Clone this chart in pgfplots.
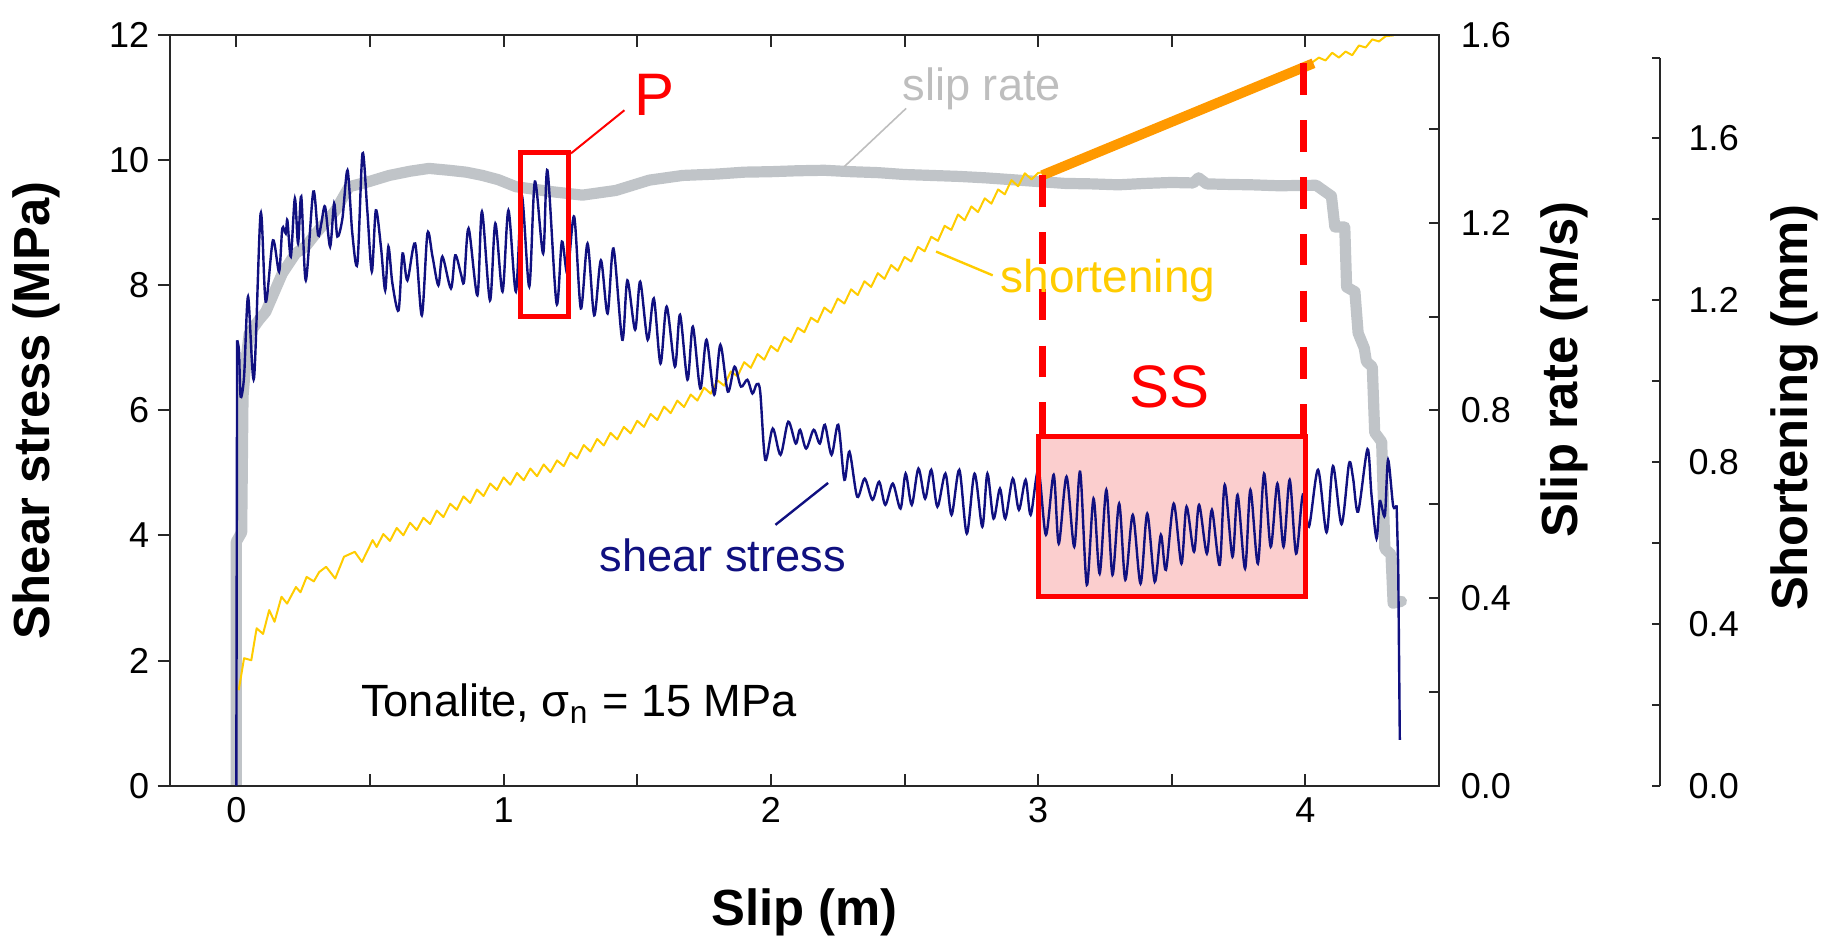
\documentclass[border=0pt]{standalone}
\usepackage{pgfplots}
\pgfplotsset{compat=1.18}
\usepackage{fontspec}
\setmainfont{Liberation Sans}
\definecolor{navyc}{RGB}{16,16,128}
\definecolor{grayc}{RGB}{192,196,200}
\definecolor{yellowc}{RGB}{255,204,0}
\definecolor{orangec}{RGB}{255,153,0}
\definecolor{redc}{RGB}{255,0,0}
\definecolor{axisc}{RGB}{40,40,40}
\definecolor{pinkc}{RGB}{251,206,206}
\definecolor{labgray}{RGB}{190,190,190}
\begin{document}
\begin{tikzpicture}
\path[use as bounding box] (0,0) rectangle (458.25pt,236.75pt);
\pgfplotsset{
  common/.style={
    scale only axis, width=317.4pt, height=187.6pt,
    at={(42.375pt,40.35pt)}, anchor=south west,
    xmin=-0.25, xmax=4.5,
    /pgf/number format/assume math mode=true,
    tick label style={font=\fontsize{9}{10}\selectfont},
    label style={font=\bfseries\fontsize{12.7}{14}\selectfont},
    axis line style={axisc, line width=0.5pt},
    every tick/.style={axisc, line width=0.5pt},
    major tick length=3pt, minor tick length=3pt,
    tick align=inside,
  },
  onedec/.style={
    yticklabel style={/pgf/number format/fixed, /pgf/number format/fixed zerofill, /pgf/number format/precision=1}
  }
}
% ---------- slip rate (right axis) ----------
\begin{axis}[common, onedec, ymin=0, ymax=1.6,
  axis y line*=right, axis x line=none,
  ytick={0,0.4,0.8,1.2,1.6}, minor ytick={0.2,0.6,1.0,1.4},
  major tick length=2.5pt, minor tick length=2.5pt,
  yticklabel style={inner sep=0pt, xshift=5.25pt, anchor=west},
  ylabel={Slip rate (m/s)},
  ylabel style={at={(axis description cs:1.0985,0.555)}, anchor=center}]
\addplot[grayc, line width=2.8pt, line join=round, line cap=round] coordinates {
(0.000,0.000) (0.000,0.520) (0.010,0.530) (0.020,0.540) (0.025,0.830) (0.035,0.900)
(0.048,0.964) (0.085,0.993) (0.110,1.010) (0.135,1.043) (0.172,1.092) (0.222,1.135) (0.260,1.150) (0.297,1.177)
(0.372,1.227) (0.422,1.277) (0.497,1.288) (0.572,1.301) (0.650,1.310) (0.721,1.316)
(0.796,1.312) (0.860,1.308) (0.921,1.301) (0.980,1.292) (1.046,1.277) (1.171,1.267) (1.295,1.259) (1.420,1.269)
(1.545,1.291) (1.670,1.301) (1.800,1.304) (1.900,1.308) (2.000,1.309) (2.100,1.311)
(2.200,1.312) (2.300,1.309) (2.400,1.307) (2.500,1.303) (2.600,1.301) (2.700,1.299)
(2.800,1.296) (2.900,1.292) (3.000,1.288) (3.100,1.284) (3.200,1.283) (3.300,1.281)
(3.400,1.284) (3.500,1.286) (3.580,1.285) (3.600,1.296) (3.630,1.283) (3.700,1.282)
(3.800,1.281) (3.900,1.279) (4.040,1.280) (4.097,1.257) (4.110,1.191) (4.147,1.191)
(4.154,1.063) (4.185,1.053) (4.197,0.965) (4.220,0.933) (4.228,0.904) (4.250,0.893)
(4.259,0.753) (4.285,0.733) (4.297,0.505) (4.320,0.493) (4.328,0.389) (4.359,0.393)
};
\end{axis}
% ---------- shortening data (hidden axis) ----------
\begin{axis}[common, ymin=0, ymax=1.8554, hide axis]
\addplot[yellowc, line width=0.5pt, line join=round] coordinates {
(0.009,0.236) (0.029,0.315) (0.056,0.310) (0.076,0.389) (0.100,0.375) (0.123,0.434)
(0.143,0.405) (0.169,0.467) (0.190,0.450) (0.223,0.491) (0.240,0.478) (0.263,0.516)
(0.290,0.505) (0.310,0.528) (0.336,0.541) (0.370,0.512) (0.403,0.566) (0.443,0.578)
(0.470,0.553) (0.510,0.607) (0.525,0.590) (0.550,0.622) (0.575,0.605) (0.600,0.637)
(0.625,0.619) (0.650,0.650) (0.675,0.632) (0.700,0.662) (0.725,0.647) (0.750,0.680)
(0.775,0.664) (0.800,0.697) (0.825,0.682) (0.850,0.715) (0.875,0.699) (0.900,0.732)
(0.925,0.716) (0.950,0.747) (0.975,0.731) (1.000,0.762) (1.025,0.744) (1.050,0.773)
(1.075,0.755) (1.100,0.784) (1.125,0.765) (1.150,0.794) (1.175,0.775) (1.200,0.804)
(1.225,0.790) (1.250,0.823) (1.275,0.809) (1.300,0.842) (1.325,0.826) (1.350,0.857)
(1.375,0.841) (1.400,0.872) (1.425,0.856) (1.450,0.887) (1.475,0.871) (1.500,0.902)
(1.525,0.887) (1.550,0.919) (1.575,0.904) (1.600,0.937) (1.625,0.921) (1.650,0.952)
(1.675,0.936) (1.700,0.967) (1.725,0.952) (1.750,0.984) (1.775,0.969) (1.800,1.002)
(1.825,0.989) (1.850,1.024) (1.875,1.012) (1.900,1.047) (1.925,1.033) (1.950,1.067)
(1.975,1.053) (2.000,1.087) (2.025,1.074) (2.050,1.109) (2.075,1.097) (2.100,1.132)
(2.125,1.121) (2.150,1.157) (2.175,1.146) (2.200,1.182) (2.225,1.169) (2.250,1.204)
(2.275,1.192) (2.300,1.227) (2.325,1.213) (2.350,1.247) (2.375,1.233) (2.400,1.267)
(2.425,1.253) (2.450,1.287) (2.475,1.273) (2.500,1.307) (2.525,1.296) (2.550,1.332)
(2.575,1.321) (2.600,1.357) (2.625,1.347) (2.650,1.384) (2.675,1.374) (2.700,1.412)
(2.725,1.398) (2.750,1.432) (2.775,1.418) (2.800,1.452) (2.825,1.439) (2.850,1.474)
(2.875,1.462) (2.900,1.497) (2.925,1.482) (2.950,1.514) (2.975,1.499) (3.000,1.515)
(3.050,1.518) (3.100,1.537) (3.150,1.542) (3.200,1.565) (3.250,1.570) (3.300,1.592)
(3.350,1.597) (3.400,1.620) (3.450,1.625) (3.500,1.647) (3.550,1.652) (3.600,1.675)
(3.650,1.680) (3.700,1.702) (3.750,1.707) (3.800,1.730) (3.850,1.735) (3.900,1.757)
(3.950,1.762) (4.000,1.785) (4.025,1.788) (4.050,1.800) (4.075,1.793) (4.100,1.812)
(4.125,1.800) (4.150,1.815) (4.175,1.806) (4.200,1.830) (4.225,1.825) (4.250,1.845)
(4.275,1.840) (4.300,1.853) (4.330,1.855)
};
\addplot[orangec, line width=2.5pt] coordinates {(3.015,1.509) (4.030,1.786)};
\end{axis}
% ---------- shear stress (main axis) ----------
\begin{axis}[common, ymin=0, ymax=12, clip=false,
  ytick={0,2,4,6,8,10,12}, ytick pos=left,
  xtick={0,1,2,3,4}, minor xtick={0.5,1.5,2.5,3.5},
  xtick pos=both, xticklabel pos=lower,
  y tick style={xshift=-3pt},
  yticklabel style={inner sep=0pt, xshift=-4.9pt},
  xticklabel style={inner sep=0pt, yshift=-2.75pt},
  xlabel={Slip (m)},
  xlabel style={at={(axis description cs:0.5,-0.1685)}, anchor=center},
  ylabel={Shear stress (MPa)},
  ylabel style={at={(axis description cs:-0.105,0.5)}, anchor=center}]
\addplot[draw=none, fill=pinkc] coordinates {(3.001,3.02) (4.000,3.02) (4.000,5.58) (3.001,5.58)} -- cycle;
\addplot[navyc, line width=0.6pt] coordinates {(0.000,0.00) (0.003,7.12)};
\addplot[navyc, line width=0.6pt, smooth, tension=0.5] coordinates {
(0.003,7.12) (0.010,6.95) (0.016,6.22) (0.029,6.54) (0.044,7.82) (0.066,6.51)
(0.091,9.15) (0.110,7.74) (0.137,8.72) (0.160,8.22) (0.172,8.91) (0.185,8.83) (0.191,9.04)
(0.204,8.46) (0.219,9.39) (0.231,8.67) (0.243,9.42) (0.260,8.08) (0.288,9.50) (0.306,8.80)
(0.318,8.99) (0.332,9.26) (0.351,8.62) (0.366,9.31) (0.378,8.78) (0.397,9.07) (0.416,9.84)
(0.434,8.83) (0.453,8.35) (0.472,10.11) (0.490,9.20) (0.507,8.22) (0.522,9.20) (0.541,8.62)
(0.557,7.92) (0.569,8.62) (0.584,8.03) (0.607,7.60) (0.622,8.51) (0.640,8.08) (0.669,8.67)
(0.694,7.52) (0.715,8.83) (0.734,8.46) (0.756,8.00) (0.771,8.46) (0.803,7.95) (0.819,8.48)
(0.840,8.19) (0.852,8.06) (0.869,8.91) (0.902,7.84) (0.919,9.18) (0.949,7.76) (0.969,8.99)
(0.996,7.90) (1.018,9.20) (1.046,7.90) (1.068,9.44) (1.096,7.98) (1.117,9.66) (1.148,8.51)
(1.164,9.84) (1.198,7.71) (1.218,8.70) (1.239,8.19) (1.264,9.10) (1.289,7.63) (1.314,8.67)
(1.339,7.52) (1.364,8.40) (1.389,7.55) (1.411,8.59) (1.444,7.13) (1.463,8.08) (1.492,7.29)
(1.511,8.06) (1.539,7.13) (1.562,7.79) (1.587,6.75) (1.610,7.66) (1.641,6.70) (1.660,7.53)
(1.688,6.49) (1.708,7.34) (1.736,6.35) (1.759,7.13) (1.788,6.25) (1.811,7.05) (1.839,6.30)
(1.864,6.70) (1.888,6.38) (1.912,6.49) (1.931,6.27) (1.947,6.42) (1.960,6.30) (1.979,5.21)
(2.007,5.71) (2.036,5.29) (2.065,5.82) (2.093,5.47) (2.109,5.69) (2.132,5.39) (2.160,5.69)
(2.183,5.47) (2.202,5.77) (2.227,5.29) (2.252,5.77) (2.275,4.89) (2.294,5.34) (2.323,4.62)
(2.351,4.91) (2.380,4.57) (2.405,4.86) (2.428,4.49) (2.456,4.83) (2.485,4.43) (2.504,4.99)
(2.527,4.49) (2.552,5.07) (2.577,4.59) (2.600,5.05) (2.623,4.46) (2.653,4.99) (2.676,4.33)
(2.705,5.05) (2.733,4.03) (2.762,4.99) (2.791,4.14) (2.810,4.99) (2.833,4.27) (2.857,4.75)
(2.877,4.27) (2.905,4.91) (2.928,4.41) (2.953,4.89) (2.972,4.33) (3.001,5.05) (3.029,4.01)
(3.058,4.97) (3.077,3.87) (3.106,4.94) (3.135,3.82) (3.157,5.02) (3.182,3.21) (3.207,4.59)
(3.230,3.39) (3.255,4.73) (3.278,3.37) (3.303,4.51) (3.326,3.29) (3.354,4.33) (3.383,3.23)
(3.408,4.35) (3.436,3.26) (3.459,4.01) (3.478,3.45) (3.507,4.51) (3.536,3.55) (3.555,4.46)
(3.583,3.74) (3.602,4.49) (3.631,3.71) (3.650,4.41) (3.679,3.53) (3.698,4.81) (3.727,3.66)
(3.746,4.65) (3.774,3.47) (3.794,4.73) (3.822,3.55) (3.845,4.99) (3.870,3.82) (3.895,4.83)
(3.918,3.82) (3.941,4.89) (3.965,3.71) (3.990,4.65) (4.013,4.14) (4.047,5.05) (4.079,4.05)
(4.103,5.11) (4.135,4.18) (4.163,5.15) (4.178,4.92) (4.197,4.38) (4.232,5.38) (4.247,4.65)
(4.266,3.95) (4.278,4.55) (4.297,4.32) (4.309,5.21) (4.328,4.48) (4.341,4.48)
};
\addplot[navyc, line width=0.6pt] coordinates {(4.341,4.48) (4.347,3.52) (4.353,0.73)};
% SS box and dashed limits
\draw[redc, line width=1.2pt] (axis cs:3.001,3.02) rectangle (axis cs:4.000,5.58);
\draw[redc, line width=1.75pt, dash pattern=on 7.9pt off 6.3pt] (axis cs:3.015,9.76) -- (axis cs:3.015,5.58);
\draw[redc, line width=1.75pt, dash pattern=on 7.9pt off 6.3pt] (axis cs:3.994,11.55) -- (axis cs:3.994,5.58);
\node[redc, font=\fontsize{15}{16}\selectfont] at (axis cs:3.49,6.37) {SS};
% P box
\draw[redc, line width=1.25pt] (axis cs:1.065,7.50) rectangle (axis cs:1.243,10.13);
\draw[redc, line width=0.5pt] (axis cs:1.252,10.11) -- (axis cs:1.452,10.80);
\node[redc, font=\fontsize{15}{16}\selectfont] at (axis cs:1.565,11.04) {P};
% labels
\node[labgray, font=\fontsize{11.3}{13}\selectfont, anchor=west, inner sep=0pt] at (axis cs:2.49,11.15) {slip rate};
\draw[labgray, line width=0.4pt] (axis cs:2.506,10.83) -- (axis cs:2.275,9.90);
\node[yellowc, font=\fontsize{11.5}{13}\selectfont, anchor=west, inner sep=0pt] at (axis cs:2.856,8.08) {shortening};
\draw[yellowc, line width=0.6pt] (axis cs:2.618,8.54) -- (axis cs:2.83,8.16);
\node[navyc, font=\fontsize{11.3}{13}\selectfont, anchor=west, inner sep=0pt] at (axis cs:1.357,3.69) {shear stress};
\draw[navyc, line width=0.6pt] (axis cs:2.017,4.17) -- (axis cs:2.214,4.84);
\node[font=\fontsize{11.3}{13}\selectfont, anchor=base west, inner sep=0pt] at (axis cs:0.464,1.10) {Tonalite, σ\textsubscript{n} = 15 MPa};
\end{axis}
% ---------- shortening scale ----------
\begin{axis}[onedec, scale only axis, width=372.6pt, height=182pt,
  at={(42.375pt,40.35pt)}, anchor=south west,
  xmin=0, xmax=1, ymin=0, ymax=1.8,
  axis y line*=right, axis x line=none,
  /pgf/number format/assume math mode=true,
  tick label style={font=\fontsize{9}{10}\selectfont},
  label style={font=\bfseries\fontsize{12.7}{14}\selectfont},
  axis line style={axisc, line width=0.5pt},
  every tick/.style={axisc, line width=0.5pt},
  tick align=inside, major tick length=2pt, minor tick length=2pt,
  ytick={0,0.4,0.8,1.2,1.6}, minor ytick={0.2,0.6,1.0,1.4,1.8},
  yticklabel style={inner sep=0pt, xshift=7pt, anchor=west},
  ylabel={Shortening (mm)},
  ylabel style={at={(axis description cs:1.09,0.519)}, anchor=center}]
\end{axis}
\end{tikzpicture}
\end{document}
